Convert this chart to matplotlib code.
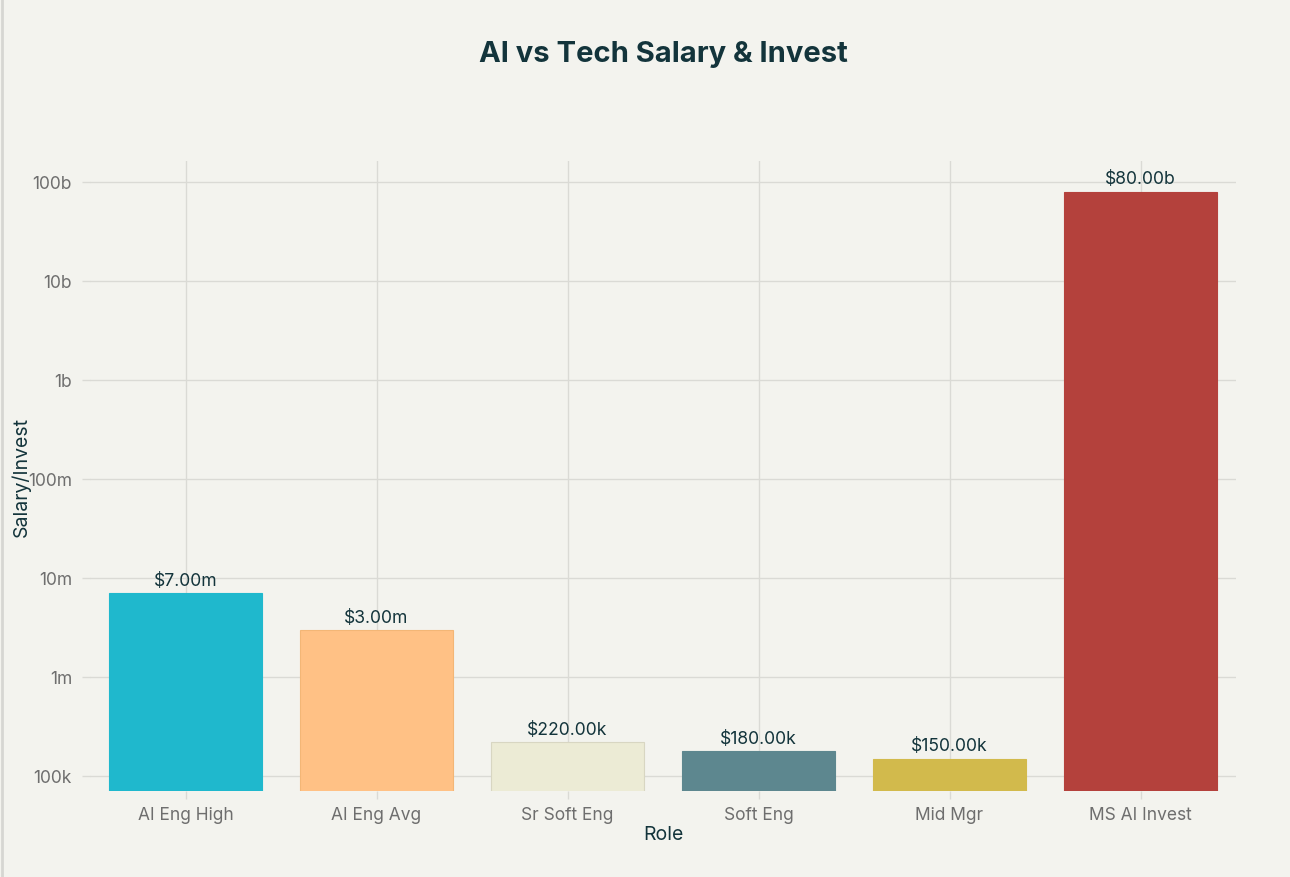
import numpy as np
import matplotlib.pyplot as plt
from matplotlib.ticker import FixedLocator, NullLocator

# --- DATA ---
roles = ['AI Eng High', 'AI Eng Avg', 'Sr Soft Eng', 'Soft Eng', 'Mid Mgr', 'MS AI Invest']
values = [7.0e6, 3.0e6, 2.2e5, 1.8e5, 1.5e5, 8.0e10]
bar_labels = ['$7.00m', '$3.00m', '$220.00k', '$180.00k', '$150.00k', '$80.00b']
colors = ['#1FB8CD', '#FFC185', '#ECEBD5', '#5D878F', '#D2BA4C', '#B4413C']
ytick_vals = [1e5, 1e6, 1e7, 1e8, 1e9, 1e10, 1e11]
ytick_labels = ['100k', '1m', '10m', '100m', '1b', '10b', '100b']

BG = '#F3F3EE'
DARK = '#13343B'
GRAY = '#6E6E6E'
GRID = '#DADAD5'

plt.rcParams['font.family'] = ['Inter', 'DejaVu Sans']

fig = plt.figure(figsize=(12.9, 8.78), dpi=100, facecolor=BG)
ax = fig.add_axes([90 / 1290, 86 / 878, 1146 / 1290, 630 / 878])
ax.set_facecolor(BG)

x = np.arange(len(roles))
bars = ax.bar(x, values, width=0.8, color=colors, zorder=2,
              edgecolor=colors, linewidth=0.8)
# light bars get a faint darker edge
bars[2].set_edgecolor('#D8D6C2')
bars[1].set_edgecolor('#F3B676')

ax.set_yscale('log')
ax.set_ylim(10 ** 4.848, 10 ** 11.212)
ax.set_xlim(-0.5, len(roles) - 0.5)

ax.yaxis.set_major_locator(FixedLocator(ytick_vals))
ax.yaxis.set_minor_locator(NullLocator())
ax.set_yticklabels(ytick_labels)
ax.set_xticks(x)
ax.set_xticklabels(roles)

ax.tick_params(axis='both', colors=GRID, labelcolor=GRAY, labelsize=12.5,
               length=6, width=1)
ax.tick_params(axis='x', pad=5)
ax.tick_params(axis='y', pad=7)

ax.grid(True, color=GRID, linewidth=1, zorder=0)
for s in ax.spines.values():
    s.set_visible(False)

for xi, v, lab in zip(x, values, bar_labels):
    ax.annotate(lab, (xi, v), xytext=(0, 3), textcoords='offset points',
                ha='center', va='bottom', fontsize=12.6, color=DARK, zorder=3)

ax.set_xlabel('Role', fontsize=14, color=DARK, labelpad=1)
ax.set_ylabel('Salary/Invest', fontsize=14, color=DARK)
ax.yaxis.set_label_coords(-(90 - 31) / 1146, 0.5)

fig.text(663 / 1290, 1 - 55 / 878, 'AI vs Tech Salary & Invest', ha='center', va='center',
         fontsize=21, fontweight='bold', color=DARK)

# faint frame line on the left edge
fig.add_artist(plt.Line2D([0.0015, 0.0015], [0, 1], transform=fig.transFigure,
                          color='#D6D6D2', linewidth=2))

fig.savefig('out.png', dpi=100, facecolor=BG)
